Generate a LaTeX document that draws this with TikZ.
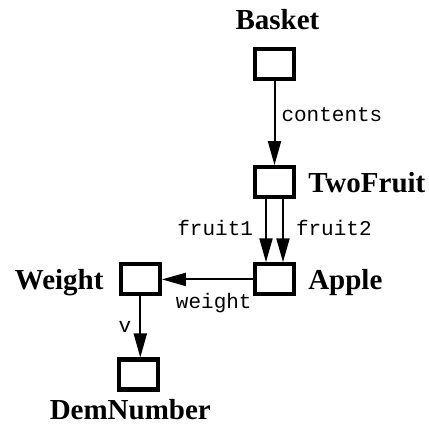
\documentclass[tikz,border=0pt]{standalone}
\usepackage{fontspec}
\setmainfont{Liberation Serif}
\setmonofont{Liberation Mono}
\usepackage{tikz}
\usetikzlibrary{arrows.meta, positioning}
\tikzset{
  classBox/.style={
    draw=black,
    line width=4.2pt,
    minimum width=39pt,
    minimum height=30pt,
    inner sep=0pt,
    fill=white
  },
  className/.style={
    font=\fontsize{29}{32}\selectfont\bfseries,
    inner sep=0pt,
    text depth=0pt
  },
  slot/.style={-{Triangle[length=24pt,width=13pt]}, line width=2pt, draw=black},
  slotLabel/.style={font=\fontsize{21}{23}\selectfont\ttfamily, inner sep=2pt}
}
\begin{document}
\begin{tikzpicture}[node distance=12pt]
  \useasboundingbox (0,0) rectangle (429pt,426pt);

  \node[classBox] (basket) at (274.5pt,362pt) {};
  \node[classBox, below=84pt of basket] (twofruit) {};
  \node[classBox, below=63pt of twofruit] (apple) {};
  \node[classBox, left=91pt of apple] (weight) {};
  \node[classBox, below=61pt of weight, xshift=-2pt] (demnumber) {};

  \node[className, above=17pt of basket, xshift=3pt] (basketName) {Basket};
  \node[className, right=of twofruit] (twofruitName) {TwoFruit};
  \node[className, right=of apple] (appleName) {Apple};
  \node[className, left=15pt of weight] (weightName) {Weight};
  \node[className, below=7pt of demnumber, xshift=-8pt] (demnumberName) {DemNumber};

  \draw[slot] (basket) -- node[slotLabel, right, pos=0.4, xshift=4pt] {contents} (twofruit);
  \draw[slot] ([xshift=-8.5pt]twofruit.south) -- node[slotLabel, left, pos=0.45, xshift=-10pt] {fruit1} ([xshift=-8.5pt]apple.north);
  \draw[slot] ([xshift=8.5pt]twofruit.south) -- node[slotLabel, right, pos=0.45, xshift=10pt] {fruit2} ([xshift=8.5pt]apple.north);
  \draw[slot] (apple) -- node[slotLabel, below, pos=0.43, yshift=-11pt] {weight} (weight);
  \draw[slot] (weight) -- node[slotLabel, left, xshift=-6pt] {v} (demnumber.north -| weight.south);
\end{tikzpicture}
\end{document}
